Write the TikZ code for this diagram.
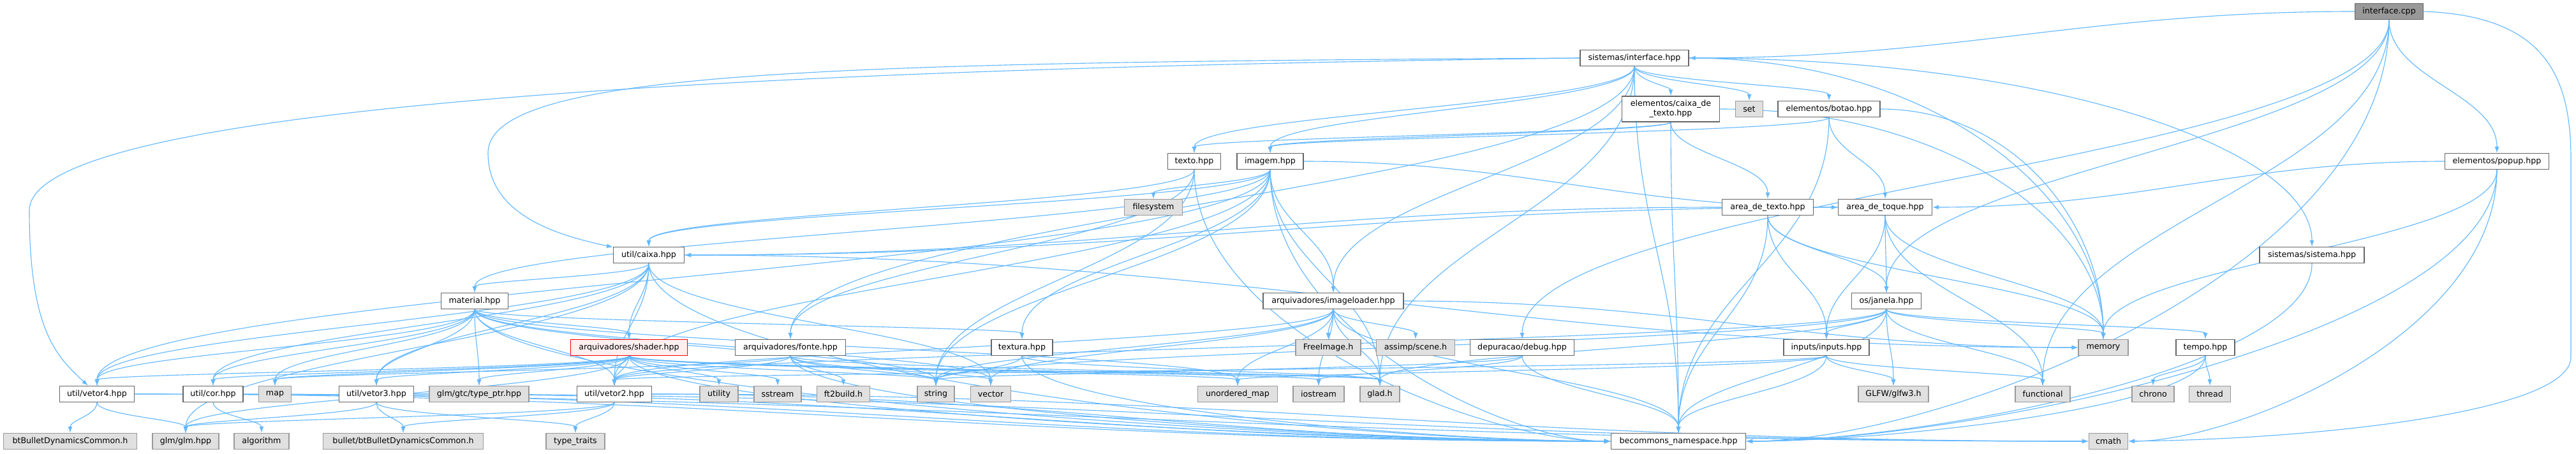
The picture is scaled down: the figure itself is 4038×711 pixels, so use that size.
\documentclass[tikz,border=0pt]{standalone}
\usepackage{fontspec}
\setmainfont{DejaVu Sans}
\usetikzlibrary{arrows.meta,positioning,calc,backgrounds}
\definecolor{depEdge}{HTML}{63B8FF}
\definecolor{depBorder}{HTML}{666666}
\definecolor{depSysBorder}{HTML}{999999}
\definecolor{depSysFill}{HTML}{E0E0E0}
\definecolor{depRootFill}{HTML}{999999}
\definecolor{depWarnFill}{HTML}{FFF0F0}
\tikzset{
    depBoxBase/.style={
        rectangle,
        draw=depBorder,
        line width=0.9pt,
        fill=white,
        minimum height=0.625cm,
        inner xsep=2pt,
        inner ysep=1pt,
        font=\fontsize{9}{10.5}\selectfont,
        align=center
    },
    % Semantic Variants
    hdr/.style={depBoxBase},
    sys/.style={depBoxBase, draw=depSysBorder, fill=depSysFill},
    root/.style={depBoxBase, fill=depRootFill},
    warn/.style={depBoxBase, draw=red, fill=depWarnFill},
    % Arrows
    dep/.style={
        draw=depEdge, line width=0.8pt, -{Latex[length=7pt,width=5pt]},
        to path={let \p1=(\tikztostart), \p2=(\tikztotarget),
            \n1={max(0.45*abs(\y1-\y2),4)} in
            .. controls (\x1,{\y1-\n1}) and (\x2,{\y2+\n1}) .. (\tikztotarget) \tikztonodes}
    },
    leftIn/.style={
        to path={let \p1=(\tikztostart.east), \p2=(\tikztotarget.west), \n1={0.4*abs(\x2-\x1)} in
            .. controls ({\x1+\n1},\y1) and ({\x2-\n1},\y2) .. (\tikztotarget.west) \tikztonodes}
    },
    rightIn/.style={
        to path={let \p1=(\tikztostart.west), \p2=(\tikztotarget.east), \n1={0.4*abs(\x1-\x2)} in
            .. controls ({\x1-\n1},\y1) and ({\x2+\n1},\y2) .. (\tikztotarget.east) \tikztonodes}
    },
    leftInDown/.style={
        to path={let \p1=(\tikztostart.south), \p2=(\tikztotarget.west) in
            .. controls (\x1,{\y1-0.6*(\y1-\y2)}) and ({\x2-0.3*abs(\x2-\x1)},\y2) .. (\tikztotarget.west) \tikztonodes}
    },
    rightInDown/.style={
        to path={let \p1=(\tikztostart.south), \p2=(\tikztotarget.east) in
            .. controls (\x1,{\y1-0.6*(\y1-\y2)}) and ({\x2+0.3*abs(\x1-\x2)},\y2) .. (\tikztotarget.east) \tikztonodes}
    },
    topInSide/.style={
        to path={let \p1=(\tikztostart.east), \p2=(\tikztotarget.north) in
            .. controls ({\x1+0.6*abs(\x2-\x1)},\y1) and (\x2,{\y2+0.5*abs(\y1-\y2)}) .. (\tikztotarget.north) \tikztonodes}
    }
}

\begin{document}
\begin{tikzpicture}[x=0.025cm, y=-0.025cm]
\useasboundingbox (0,0) rectangle (4038,711);

% top ranks
\node[root, minimum width=2.68cm] (ic) at (3745,18) {interface.cpp};
\node[hdr, minimum width=4.25cm] (sisint) at (2562,91) {sistemas/interface.hpp};
\node[hdr, minimum width=3.83cm, minimum height=1cm] (eltexto) at (2619,171) {elementos/caixa\_de\\\_texto.hpp};
\node[sys, minimum width=1.08cm] (set) at (2742,171) {set};
\node[hdr, minimum width=4cm] (botao) at (2867,171) {elementos/botao.hpp};
\node[hdr, minimum width=2.08cm] (texto) at (1872,253) {texto.hpp};
\node[hdr, minimum width=2.6cm] (imagem) at (1991,253) {imagem.hpp};
\node[hdr, minimum width=4.08cm] (popup) at (3914,253) {elementos/popup.hpp};
\node[sys, minimum width=2.28cm] (filesystem) at (1808,325) {filesystem};
\node[hdr, minimum width=3.58cm] (areatexto) at (2771,325) {area\_de\_texto.hpp};
\node[hdr, minimum width=3.68cm] (areatoque) at (2955,325) {area\_de\_toque.hpp};
\node[hdr, minimum width=2.78cm] (caixa) at (1017,400) {util/caixa.hpp};
\node[hdr, minimum width=4.1cm] (sistema) at (3624,400) {sistemas/sistema.hpp};
\node[hdr, minimum width=2.63cm] (material) at (744,472) {material.hpp};
\node[hdr, minimum width=5.5cm] (imageloader) at (2090,472) {arquivadores/imageloader.hpp};
\node[hdr, minimum width=2.73cm] (janela) at (2957,472) {os/janela.hpp};

% middle rank
\node[warn, minimum width=4.58cm] (shader) at (986,545) {arquivadores/shader.hpp};
\node[hdr, minimum width=4.33cm] (fonte) at (1239,545) {arquivadores/fonte.hpp};
\node[hdr, minimum width=2.4cm] (textura) at (1602,545) {textura.hpp};
\node[sys, minimum width=2.55cm] (freeimage) at (2082,545) {FreeImage.h};
\node[sys, minimum width=3.08cm] (assimp) at (2219,545) {assimp/scene.h};
\node[hdr, minimum width=4.08cm] (debug) at (2386,545) {depuracao/debug.hpp};
\node[hdr, minimum width=3.35cm] (inputs) at (2863,545) {inputs/inputs.hpp};
\node[sys, minimum width=1.95cm] (memory) at (3297,545) {memory};
\node[hdr, minimum width=2.3cm] (tempo) at (3457,545) {tempo.hpp};

% lower ranks
\node[hdr, minimum width=2.93cm] (vetor4) at (152,618) {util/vetor4.hpp};
\node[hdr, minimum width=2.35cm] (cor) at (334,618) {util/cor.hpp};
\node[sys, minimum width=1.28cm] (map) at (431,618) {map};
\node[hdr, minimum width=2.93cm] (vetor3) at (590,618) {util/vetor3.hpp};
\node[sys, minimum width=3.9cm] (typeptr) at (751,618) {glm/gtc/type\_ptr.hpp};
\node[hdr, minimum width=2.93cm] (vetor2) at (963,618) {util/vetor2.hpp};
\node[sys, minimum width=1.5cm] (utility) at (1127,618) {utility};
\node[sys, minimum width=1.85cm] (sstream) at (1219,618) {sstream};
\node[sys, minimum width=2.08cm] (ft2build) at (1322,618) {ft2build.h};
\node[sys, minimum width=1.45cm] (string) at (1467,618) {string};
\node[sys, minimum width=1.58cm] (vector) at (1553,618) {vector};
\node[sys, minimum width=3.13cm] (umap) at (1940,618) {unordered\_map};
\node[sys, minimum width=2cm] (iostream) at (2067,618) {iostream};
\node[sys, minimum width=1.55cm] (glad) at (2163,618) {glad.h};
\node[sys, minimum width=2.75cm] (glfw) at (2968,618) {GLFW/glfw3.h};
\node[sys, minimum width=2.15cm] (functional) at (3202,618) {functional};
\node[sys, minimum width=1.65cm] (chrono) at (3375,618) {chrono};
\node[sys, minimum width=1.63cm] (thread) at (3464,618) {thread};
\node[sys, minimum width=5.23cm] (btbullet) at (110,692) {btBulletDynamicsCommon.h};
\node[sys, minimum width=2.6cm] (glm) at (291,692) {glm/glm.hpp};
\node[sys, minimum width=2.15cm] (algorithm) at (410,692) {algorithm};
\node[sys, minimum width=6.28cm] (bullet) at (632,692) {bullet/btBulletDynamicsCommon.h};
\node[sys, minimum width=2.3cm] (typetraits) at (902,692) {type\_traits};
\node[hdr, minimum width=5.28cm] (becommons) at (2631,692) {becommons\_namespace.hpp};
\node[sys, minimum width=1.53cm] (cmath) at (3305,692) {cmath};

\begin{scope}[on background layer]
\fill[white] (0,0) rectangle (4038,711);

% interface.cpp
\draw[dep] (ic) to[rightIn] (sisint);
\draw[dep] (ic) to (debug);
\draw[dep] (ic) to (janela);
\draw[dep] (ic) to (functional);
\draw[dep] (ic) to (popup);
\draw[dep] (ic) to[rightInDown] (becommons);
\draw[dep] (ic.east) .. controls (3990,25) and (4030,120) .. (4030,250) -- (4030,560) .. controls (4030,650) and (3600,690) .. (cmath);

% sistemas/interface.hpp
\draw[dep] (sisint) to (eltexto);
\draw[dep] (sisint) to (set);
\draw[dep] (sisint) to (botao);
\draw[dep] (sisint) to (texto);
\draw[dep] (sisint) to (imagem);
\draw[dep] (sisint) to (imageloader);
\draw[dep] (sisint) to (fonte);
\draw[dep] (sisint) to (glad);
\draw[dep] (sisint) to (becommons);
\draw[dep] (sisint) to[topInSide] (sistema);
\draw[dep] (sisint) to[topInSide] (memory);
\draw[dep] (sisint.west) .. controls (1300,98) and (765,110) .. (765,240) .. controls (765,340) and (880,370) .. (caixa);
\draw[dep] (sisint.west) .. controls (1400,105) and (46,150) .. (46,330) .. controls (46,520) and (90,560) .. (vetor4);

% elementos
\draw[dep] (eltexto) to (texto);
\draw[dep] (eltexto) to (imagem);
\draw[dep] (eltexto) to (areatexto);
\draw[dep] (eltexto) to (becommons);
\draw[dep] (eltexto) to[topInSide] (memory);
\draw[dep] (botao) to (imagem);
\draw[dep] (botao) to (areatoque);
\draw[dep] (botao) to[topInSide] (memory);
\draw[dep] (botao) to (becommons);
\draw[dep] (popup) to[rightIn] (areatoque);
\draw[dep] (popup) to (memory);
\draw[dep] (popup) to[rightInDown] (becommons);
\draw[dep] (popup) to[rightInDown] (cmath);

% texto.hpp and imagem.hpp
\draw[dep] (texto) to (fonte);
\draw[dep] (texto) to (caixa);
\draw[dep] (texto) to (string);
\draw[dep] (texto) to[leftInDown] (becommons);
\draw[dep] (imagem) to (filesystem);
\draw[dep] (imagem) to (imageloader);
\draw[dep] (imagem) to (glad);
\draw[dep] (imagem) to (caixa);
\draw[dep] (imagem) to (material);
\draw[dep] (imagem) to (textura);
\draw[dep] (imagem) to (vetor4);
\draw[dep] (imagem) to (vetor2);
\draw[dep] (imagem) to (string);
\draw[dep] (imagem) to[leftIn] (areatoque);
\draw[dep] (imagem) to[leftInDown] (becommons);

% areas
\draw[dep] (areatexto) to[rightIn] (caixa);
\draw[dep] (areatexto) to (janela);
\draw[dep] (areatexto) to (inputs);
\draw[dep] (areatexto) to (becommons);
\draw[dep] (areatexto) to (memory);
\draw[dep] (areatoque) to[rightIn] (caixa);
\draw[dep] (areatoque) to (janela);
\draw[dep] (areatoque) to (inputs);
\draw[dep] (areatoque) to (functional);
\draw[dep] (areatoque) to (memory);
\draw[dep] (sistema) to[rightInDown] (becommons);

% util/caixa.hpp
\draw[dep] (caixa) to (material);
\draw[dep] (caixa) to (shader);
\draw[dep] (caixa) to (vetor2);
\draw[dep] (caixa) to (vetor3);
\draw[dep] (caixa) to (vetor4);
\draw[dep] (caixa) to (cor);
\draw[dep] (caixa) to (glm);
\draw[dep] (caixa) to (vector);
\draw[dep] (caixa) to[leftIn] (memory);
\draw[dep] (caixa) to[leftInDown] (becommons);

% material.hpp
\draw[dep] (material) to (shader);
\draw[dep] (material) to (vetor4);
\draw[dep] (material) to (cor);
\draw[dep] (material) to (map);
\draw[dep] (material) to (vetor3);
\draw[dep] (material) to (typeptr);
\draw[dep] (material) to (vetor2);
\draw[dep] (material) to (textura);
\draw[dep] (material) to (string);
\draw[dep] (material) to (vector);
\draw[dep] (material) to (umap);
\draw[dep] (material) to[leftInDown] (becommons);

% arquivadores/imageloader.hpp
\draw[dep] (imageloader) to (umap);
\draw[dep] (imageloader) to (glad);
\draw[dep] (imageloader) to (freeimage);
\draw[dep] (imageloader) to (assimp);
\draw[dep] (imageloader) to (string);
\draw[dep] (imageloader) to (vector);
\draw[dep] (imageloader) to (iostream);
\draw[dep] (imageloader) to (vetor2);
\draw[dep] (imageloader) to (becommons);
\draw[dep] (imageloader) to[leftIn] (memory);

% os/janela.hpp
\draw[dep] (janela) to (inputs);
\draw[dep] (janela) to (glad);
\draw[dep] (janela) to (glfw);
\draw[dep] (janela) to (functional);
\draw[dep] (janela) to (memory);
\draw[dep] (janela) to (tempo);
\draw[dep] (janela) to (becommons);
\draw[dep] (janela) to (string);
\draw[dep] (janela) to (vetor2);

% arquivadores/shader.hpp
\draw[dep] (shader) to (typeptr);
\draw[dep] (shader) to (vetor2);
\draw[dep] (shader) to (utility);
\draw[dep] (shader) to (sstream);
\draw[dep] (shader) to (vetor3);
\draw[dep] (shader) to (vetor4);
\draw[dep] (shader) to (cor);
\draw[dep] (shader) to (map);
\draw[dep] (shader) to (string);
\draw[dep] (shader) to (umap);
\draw[dep] (shader) to (glad);
\draw[dep] (shader) to (iostream);
\draw[dep] (shader) to (glm);
\draw[dep] (shader) to[leftInDown] (becommons);

% fonte, textura, debug, inputs, tempo
\draw[dep] (fonte) to (ft2build);
\draw[dep] (fonte) to (string);
\draw[dep] (fonte) to (vector);
\draw[dep] (fonte) to (vetor2);
\draw[dep] (fonte) to (map);
\draw[dep] (fonte) to (glad);
\draw[dep] (fonte) to[leftInDown] (becommons);
\draw[dep] (textura) to (string);
\draw[dep] (textura) to (glad);
\draw[dep] (textura) to[leftInDown] (becommons);
\draw[dep] (debug) to (iostream);
\draw[dep] (debug) to (string);
\draw[dep] (debug) to (becommons);
\draw[dep] (inputs) to (glfw);
\draw[dep] (inputs) to (functional);
\draw[dep] (inputs) to (umap);
\draw[dep] (inputs) to (vetor2);
\draw[dep] (inputs) to (becommons);
\draw[dep] (tempo) to (chrono);
\draw[dep] (tempo) to (thread);
\draw[dep] (tempo) to[rightInDown] (becommons);

% util vectors
\draw[dep] (vetor2) to (typetraits);
\draw[dep] (vetor2) to (bullet);
\draw[dep] (vetor2) to (glm);
\draw[dep] (vetor2) to[leftIn] (becommons);
\draw[dep] (vetor2) to[leftIn] (cmath);
\draw[dep] (vetor3) to (bullet);
\draw[dep] (vetor3) to (glm);
\draw[dep] (vetor3) to (typetraits);
\draw[dep] (vetor3) to[leftIn] (becommons);
\draw[dep] (vetor3) to[leftIn] (cmath);
\draw[dep] (vetor4) to (btbullet);
\draw[dep] (vetor4) to (glm);
\draw[dep] (vetor4) to[leftIn] (becommons);
\draw[dep] (vetor4) to[leftIn] (cmath);
\draw[dep] (cor) to (algorithm);
\draw[dep] (cor) to[leftIn] (becommons);
\end{scope}
\end{tikzpicture}
\end{document}
